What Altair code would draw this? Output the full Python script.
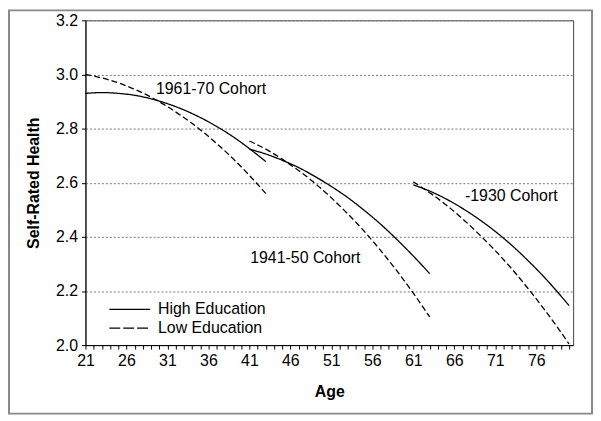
import altair as alt
import pandas as pd

# ---- data ----
ages_1961 = [21, 23, 25, 27, 29, 31, 33, 35, 37, 39, 41, 43]
high_1961 = [2.930, 2.933, 2.930, 2.923, 2.910, 2.892, 2.869, 2.841, 2.808, 2.770, 2.726, 2.678]
low_1961 = [3.000, 2.987, 2.969, 2.945, 2.916, 2.881, 2.841, 2.796, 2.745, 2.689, 2.627, 2.560]

ages_1941 = [41, 43, 45, 47, 49, 51, 53, 55, 57, 59, 61, 63]
high_1941 = [2.724, 2.706, 2.683, 2.656, 2.623, 2.586, 2.545, 2.498, 2.447, 2.390, 2.329, 2.264]
low_1941 = [2.754, 2.724, 2.687, 2.645, 2.598, 2.544, 2.485, 2.421, 2.350, 2.274, 2.192, 2.104]

ages_1930 = [61, 63, 65, 67, 69, 71, 73, 75, 77, 79, 80]
high_1930 = [2.592, 2.569, 2.540, 2.505, 2.465, 2.420, 2.369, 2.312, 2.250, 2.182, 2.146]
low_1930 = [2.603, 2.563, 2.518, 2.467, 2.410, 2.349, 2.282, 2.209, 2.131, 2.048, 2.004]

cohorts = ["1961-70 Cohort", "1941-50 Cohort", "-1930 Cohort"]
education = ["High Education", "Low Education"]
y_ticks = [2.0, 2.2, 2.4, 2.6, 2.8, 3.0, 3.2]
x_ticks = list(range(21, 81))

# annotation anchors (age, rating) for cohort labels
label_age = [29.6, 41.1, 67.3]
label_val = [2.946, 2.322, 2.550]

rows = []
for coh, ages, hi, lo in [
    (cohorts[0], ages_1961, high_1961, low_1961),
    (cohorts[1], ages_1941, high_1941, low_1941),
    (cohorts[2], ages_1930, high_1930, low_1930),
]:
    for a, v in zip(ages, hi):
        rows.append({"cohort": coh, "edu": education[0], "age": a, "val": v})
    for a, v in zip(ages, lo):
        rows.append({"cohort": coh, "edu": education[1], "age": a, "val": v})
df = pd.DataFrame(rows)
lab_df = pd.DataFrame({"text": cohorts, "age": label_age, "val": label_val})
one = pd.DataFrame({"k": [0]})

FONT = "Liberation Sans"

x_scale = alt.Scale(domain=[21, 80.5], nice=False, zero=False)
y_scale = alt.Scale(domain=[2.0, 3.2], nice=False, zero=False)

x_axis = alt.Axis(
    title="Age", values=x_ticks, tickCount=200, format="d",
    labelExpr="(datum.value - 21) % 5 === 0 ? datum.label : ''",
    labelOverlap=False, labelFlush=False, grid=False,
    tickSize=4, labelPadding=4, titlePadding=15,
    domainColor="black", tickColor="black",
)
y_axis = alt.Axis(
    title="Self-Rated Health", values=y_ticks, format=".1f",
    grid=True, gridDash=[2, 2], gridColor="#777", gridWidth=1,
    tickSize=4, labelPadding=4, titlePadding=14,
    domainColor="black", tickColor="black",
)

lines = alt.Chart(df).mark_line(color="black", strokeWidth=1.3, interpolate="monotone").encode(
    x=alt.X("age:Q", scale=x_scale, axis=x_axis),
    y=alt.Y("val:Q", scale=y_scale, axis=y_axis),
    strokeDash=alt.StrokeDash(
        "edu:N",
        scale=alt.Scale(domain=education, range=[[1, 0], [6, 3]]),
        legend=None,
    ),
    detail="cohort:N",
)

labels = alt.Chart(lab_df).mark_text(
    align="left", baseline="middle", fontSize=16, font=FONT, color="black"
).encode(
    x=alt.X("age:Q", scale=x_scale),
    y=alt.Y("val:Q", scale=y_scale),
    text="text:N",
)

leg_hi_line = alt.Chart(one).mark_rule(color="black", strokeWidth=1.3).encode(
    x=alt.value(24), x2=alt.value(65), y=alt.value(291)
)
leg_lo_line = alt.Chart(one).mark_rule(color="black", strokeWidth=1.3, strokeDash=[11, 3]).encode(
    x=alt.value(24), x2=alt.value(65), y=alt.value(310)
)
leg_hi_txt = alt.Chart(one).mark_text(
    align="left", baseline="middle", fontSize=16, font=FONT, color="black"
).encode(x=alt.value(73), y=alt.value(291), text=alt.value(education[0]))
leg_lo_txt = alt.Chart(one).mark_text(
    align="left", baseline="middle", fontSize=16, font=FONT, color="black"
).encode(x=alt.value(73), y=alt.value(310), text=alt.value(education[1]))

frame = alt.Chart(one).mark_rect(fillOpacity=0, stroke="#888", strokeWidth=2).encode(
    x=alt.value(-77), x2=alt.value(510), y=alt.value(-10), y2=alt.value(396)
)

chart = alt.layer(
    frame, lines, labels, leg_hi_line, leg_lo_line, leg_hi_txt, leg_lo_txt
).properties(
    width=491, height=327,
    autosize=alt.AutoSizeParams(type="none"),
    padding={"left": 78, "top": 11, "right": 20, "bottom": 70},
    background="white",
).configure_view(
    stroke="#444", strokeWidth=1
).configure_axis(
    labelFont=FONT, titleFont=FONT, labelFontSize=16, titleFontSize=16,
    titleFontWeight="bold", labelColor="black", titleColor="black",
)

chart.save("out.html", embed_options={"renderer": "svg", "actions": False})
